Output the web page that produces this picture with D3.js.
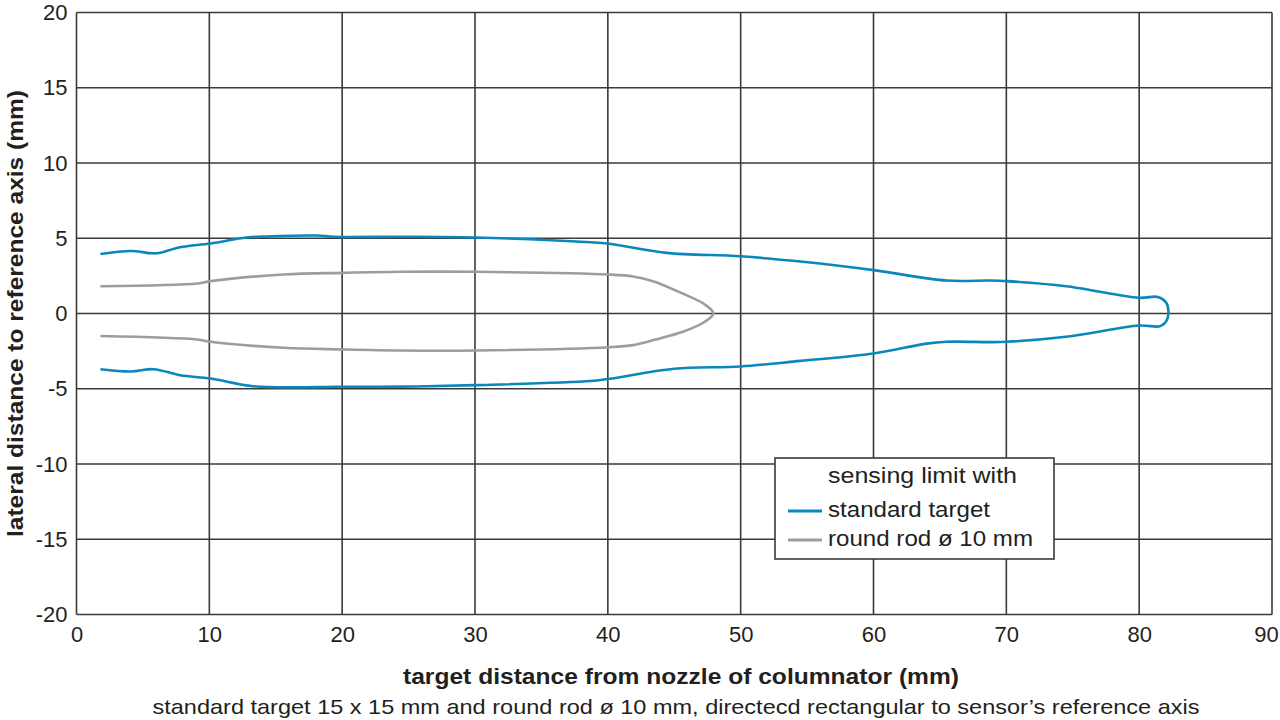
<!DOCTYPE html>
<html>
<head>
<meta charset="utf-8">
<script src="https://cdn.jsdelivr.net/npm/d3@7"></script>
<style>
  body { margin: 0; background: #fff; }
  text { font-family: "Liberation Sans", Arial, sans-serif; fill: #231f20; }
</style>
</head>
<body>
<script>
// sensing limit outlines (x: mm from nozzle, y: lateral mm)
const standardUpper = [
  [1.8, 3.95], [4.1, 4.15], [5.7, 4.0], [6.2, 4.02], [7.8, 4.4], [10.1, 4.65],
  [12.8, 5.05], [14.3, 5.12], [18.1, 5.18], [19.4, 5.1], [24.4, 5.1], [30, 5.05],
  [38.7, 4.73], [40.1, 4.63], [44.4, 4.03], [50, 3.8], [54.5, 3.45], [60, 2.88],
  [65.5, 2.19], [68.8, 2.19], [70, 2.15], [74.5, 1.81], [80, 1.04], [81.4, 1.1],
  [82.05, 0.7], [82.2, 0]
];
const standardLower = [
  [1.8, -3.7], [4.1, -3.85], [5.8, -3.7], [7.8, -4.1], [10.1, -4.32], [13.3, -4.83],
  [18.1, -4.89], [19.4, -4.87], [24.4, -4.86], [30, -4.76], [38.7, -4.49], [40.1, -4.34],
  [45, -3.67], [50, -3.52], [54.5, -3.15], [60, -2.66], [64, -2.0], [65.5, -1.88],
  [68.8, -1.9], [70, -1.88], [74.5, -1.55], [80, -0.8], [81.6, -0.84], [82.05, -0.5]
];
const rodUpper = [
  [1.8, 1.81], [9.1, 1.99], [10.1, 2.15], [15.6, 2.59], [20.1, 2.7], [24.4, 2.77],
  [30, 2.77], [40.1, 2.59], [41.9, 2.46], [43.4, 2.15], [45.7, 1.3], [47.3, 0.6], [47.95, 0]
];
const rodLower = [
  [1.8, -1.5], [9.1, -1.73], [10.1, -1.88], [15.6, -2.28], [20.1, -2.39], [24.4, -2.46],
  [30, -2.46], [40.1, -2.24], [41.9, -2.1], [43.6, -1.73], [45.7, -1.2], [47.3, -0.55]
];
const xTicks = [0, 10, 20, 30, 40, 50, 60, 70, 80, 90];
const yTicks = [20, 15, 10, 5, 0, -5, -10, -15, -20];
const legendTitle = "sensing limit with";
const seriesNames = ["standard target", "round rod ø 10 mm"];
const seriesColors = ["#0a87bd", "#9d9da1"];

const svg = d3.select("body").append("svg")
  .attr("width", 1280)
  .attr("height", 720);

const margin = {top: 12.5, right: 8, bottom: 105.5, left: 76.5},
      width = 1280 - margin.left - margin.right,
      height = 720 - margin.top - margin.bottom;

const g = svg.append("g").attr("transform", `translate(${margin.left},${margin.top})`);

const x = d3.scaleLinear().domain([0, 90]).range([0, width]);
const y = d3.scaleLinear().domain([-20, 20]).range([height, 0]);

// grid
g.append("g")
  .selectAll("line")
  .data(xTicks)
  .join("line")
  .attr("x1", d => x(d)).attr("x2", d => x(d))
  .attr("y1", 0).attr("y2", height)
  .attr("stroke", "#3a3a3a").attr("stroke-width", 1.6);

g.append("g")
  .selectAll("line")
  .data(yTicks)
  .join("line")
  .attr("x1", 0).attr("x2", width)
  .attr("y1", d => y(d)).attr("y2", d => y(d))
  .attr("stroke", "#3a3a3a").attr("stroke-width", 1.6);

// axes labels
const xAxis = g.append("g")
  .attr("transform", `translate(0,${height})`)
  .call(d3.axisBottom(x).tickValues(xTicks).tickFormat(d => String(d)).tickSize(0).tickPadding(12));
const yAxis = g.append("g")
  .call(d3.axisLeft(y).tickValues(yTicks).tickFormat(d => String(d)).tickSize(0).tickPadding(9));
[xAxis, yAxis].forEach(a => {
  a.select(".domain").remove();
  a.selectAll("text").attr("font-size", 22).attr("font-family", "Liberation Sans, Arial, sans-serif")
    .attr("fill", "#231f20");
});
// last x label kept inside the page, as in the reference
xAxis.selectAll(".tick").filter(d => d === 90).select("text").attr("dx", -6);

// outlines
const line = d3.line()
  .x(d => x(d[0]))
  .y(d => y(d[1]))
  .curve(d3.curveCatmullRom.alpha(0.5));

const outlines = [
  standardUpper.concat(standardLower.slice().reverse()),
  rodUpper.concat(rodLower.slice().reverse())
];

g.selectAll("path.outline")
  .data(outlines)
  .join("path")
  .attr("class", "outline")
  .attr("fill", "none")
  .attr("stroke", (d, i) => seriesColors[i])
  .attr("stroke-width", 2.6)
  .attr("stroke-linejoin", "round")
  .attr("d", line);

// legend
const lg = svg.append("g").attr("transform", "translate(775,458)");
lg.append("rect")
  .attr("width", 279).attr("height", 101)
  .attr("fill", "#fff").attr("stroke", "#3a3a3a").attr("stroke-width", 1.6);
lg.append("text")
  .attr("x", 53).attr("y", 25)
  .attr("font-size", 22)
  .attr("textLength", 189).attr("lengthAdjust", "spacingAndGlyphs")
  .text(legendTitle);
const legendWidths = [162, 205];
const items = lg.selectAll("g.item")
  .data(seriesNames)
  .join("g")
  .attr("transform", (d, i) => `translate(0,${59 + i * 29})`);
items.append("line")
  .attr("x1", 13).attr("x2", 47)
  .attr("y1", -6).attr("y2", -6)
  .attr("stroke", (d, i) => seriesColors[i])
  .attr("stroke-width", 3);
items.append("text")
  .attr("x", 53).attr("y", 0)
  .attr("font-size", 22)
  .attr("textLength", (d, i) => legendWidths[i]).attr("lengthAdjust", "spacingAndGlyphs")
  .text(d => d);

// titles
svg.append("text")
  .attr("x", 681).attr("y", 684)
  .attr("text-anchor", "middle")
  .attr("font-size", 22).attr("font-weight", "bold")
  .attr("textLength", 556).attr("lengthAdjust", "spacingAndGlyphs")
  .text("target distance from nozzle of columnator (mm)");

svg.append("text")
  .attr("transform", `translate(23,${margin.top + height / 2}) rotate(-90)`)
  .attr("text-anchor", "middle")
  .attr("font-size", 22).attr("font-weight", "bold")
  .attr("textLength", 447).attr("lengthAdjust", "spacingAndGlyphs")
  .text("lateral distance to reference axis (mm)");

svg.append("text")
  .attr("x", 676).attr("y", 714)
  .attr("text-anchor", "middle")
  .attr("font-size", 21)
  .attr("textLength", 1047).attr("lengthAdjust", "spacingAndGlyphs")
  .text("standard target 15 x 15 mm and round rod ø 10 mm, directecd rectangular to sensor’s reference axis");
</script>
</body>
</html>
